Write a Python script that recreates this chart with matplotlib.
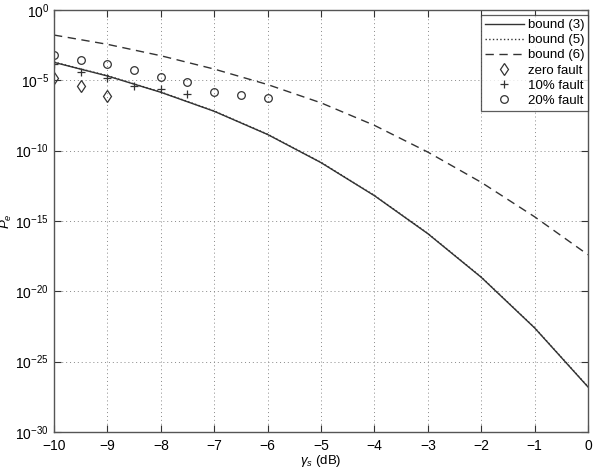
import matplotlib
matplotlib.use("Agg")
import matplotlib.pyplot as plt
from matplotlib.ticker import FixedLocator, FixedFormatter

plt.rcParams['font.family'] = ['Liberation Sans', 'DejaVu Sans']
plt.rcParams['mathtext.fontset'] = 'custom'
plt.rcParams['mathtext.rm'] = 'Liberation Sans'
plt.rcParams['mathtext.it'] = 'Liberation Sans:italic'

# Data (log10 of Pe)
snr_db = [-10, -9, -8, -7, -6, -5, -4, -3, -2, -1, 0]
bound3_log = [-3.72, -4.69, -5.85, -7.2, -8.85, -10.85, -13.2, -15.9, -19.0, -22.6, -26.8]
bound5_log = [-3.70, -4.67, -5.83, -7.18, -8.83, -10.83, -13.18, -15.88, -18.98, -22.58, -26.78]
bound6_log = [-1.78, -2.44, -3.25, -4.2, -5.3, -6.6, -8.2, -10.1, -12.25, -14.7, -17.4]

zero_x = [-10, -9.5, -9]
zero_log = [-4.84, -5.4, -6.1]
ten_x = [-10, -9.5, -9, -8.5, -8, -7.5]
ten_log = [-3.86, -4.4, -4.8, -5.4, -5.65, -5.97]
twenty_x = [-10, -9.5, -9, -8.5, -8, -7.5, -7, -6.5, -6]
twenty_log = [-3.2, -3.53, -3.86, -4.3, -4.76, -5.1, -5.8, -6.07, -6.27]

y_ticks = [1e0, 1e-5, 1e-10, 1e-15, 1e-20, 1e-25, 1e-30]
y_tick_labels = [r'$10^{0}$', r'$10^{-5}$', r'$10^{-10}$', r'$10^{-15}$',
                 r'$10^{-20}$', r'$10^{-25}$', r'$10^{-30}$']
x_ticks = [-10, -9, -8, -7, -6, -5, -4, -3, -2, -1, 0]
x_tick_labels = ['\u221210', '\u22129', '\u22128', '\u22127', '\u22126', '\u22125',
                 '\u22124', '\u22123', '\u22122', '\u22121', '0']

def p(v):
    return [10.0 ** a for a in v]

fig = plt.figure(figsize=(5.94, 4.69), dpi=100)
ax = fig.add_axes([54/594, 37/469, 534/594, 422/469])

lc = '#333333'
ax.semilogy(snr_db, p(bound3_log), '-', color=lc, lw=1.0, label='bound (3)')
ax.semilogy(snr_db, p(bound5_log), ':', color=lc, lw=1.0, label='bound (5)')
ax.semilogy(snr_db, p(bound6_log), '--', color=lc, lw=1.0, dashes=(6, 4), label='bound (6)')
ax.semilogy(zero_x, p(zero_log), linestyle='none', marker='d', ms=6, mfc='none',
            mec=lc, mew=0.9, label='zero fault')
ax.semilogy(ten_x, p(ten_log), linestyle='none', marker='+', ms=6, color=lc,
            mew=0.9, label='10% fault')
ax.semilogy(twenty_x, p(twenty_log), linestyle='none', marker='o', ms=5.5, mfc='none',
            mec=lc, mew=0.9, label='20% fault')

ax.set_xlim(-10, 0)
ax.set_ylim(1e-30, 1e0)
ax.yaxis.set_major_locator(FixedLocator(y_ticks))
ax.yaxis.set_major_formatter(FixedFormatter(y_tick_labels))
ax.yaxis.set_minor_locator(FixedLocator([]))
ax.set_xticks(x_ticks)
ax.set_xticklabels(x_tick_labels)

ax.tick_params(direction='in', length=5, width=0.8, colors=lc, labelcolor='black',
               labelsize=10, top=True, right=True)
ax.tick_params(axis='x', pad=5)
for s in ax.spines.values():
    s.set_color('#555555')
    s.set_linewidth(1.0)

ax.grid(True, which='major', linestyle=(0, (1, 3)), color='#888888', lw=0.7)

ax.set_xlabel(r'$\gamma_s$ (dB)', fontsize=9.5, labelpad=0)
ax.set_ylabel(r'$P_e$', fontsize=9.5)
ax.yaxis.set_label_coords(-0.074, 0.5)

leg = ax.legend(loc='upper right', bbox_to_anchor=(1.0, 1 - 5/422), borderaxespad=0,
                fontsize=9.5, frameon=True, fancybox=False, handlelength=2.9,
                labelspacing=0.22, borderpad=0.3, handletextpad=0.3,
                markerfirst=True)
leg.get_frame().set_edgecolor('#333333')
leg.get_frame().set_linewidth(0.9)

fig.savefig('out.png', dpi=100)
